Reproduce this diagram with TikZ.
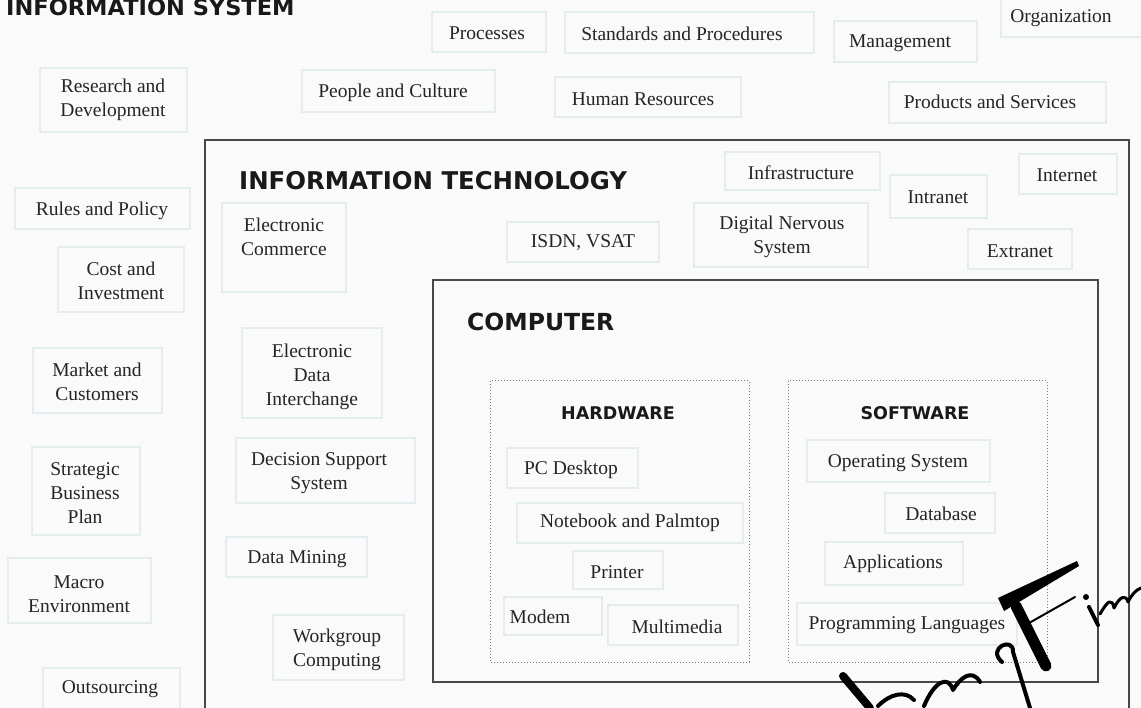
\documentclass[tikz,border=0pt]{standalone}
\usepackage{fontspec}
\setmainfont{Liberation Serif}
\newfontfamily\titlefont{DejaVu Sans}
\definecolor{bgc}{HTML}{FAFAFA}
\definecolor{boxc}{HTML}{E3ECEF}
\definecolor{framec}{HTML}{484848}
\definecolor{dotc}{HTML}{7A7A7A}
\definecolor{txtc}{HTML}{252525}
\tikzset{
  lbox/.style={draw=boxc, line width=1.5pt},
  txt/.style={font=\fontsize{19.5}{24}\selectfont, text=txtc, align=center, inner sep=0pt},
  frame/.style={draw=framec, line width=2.4pt},
  dotbox/.style={draw=dotc, line width=1pt, dotted},
  ttl/.style={font=\titlefont\bfseries, text=black!90, inner sep=0pt},
  sig/.style={draw=black, line cap=round, line join=round}
}
\newcommand\bx[8]{\draw[lbox] (#2,#3) rectangle (#4,#5); \node[txt] (#1) at (#6,#7) {#8};}
\begin{document}
\begin{tikzpicture}[x=1pt,y=-1pt]
\useasboundingbox (0,0) rectangle (1141,708);
\clip (0,0) rectangle (1141,708);
\fill[bgc] (0,0) rectangle (1141,708);

% Information system title
\node[ttl, font=\titlefont\bfseries\fontsize{22.5}{26}\selectfont, anchor=base west] (istitle) at (6,16) {INFORMATION SYSTEM};

% Outer elements
\bx{proc}{432}{12}{546}{52}{487}{33}{Processes}
\bx{stdp}{565}{12}{814}{53}{682}{34}{Standards and Procedures}
\bx{mgmt}{834}{21}{977}{62}{900}{43}{Management}
\bx{org}{1001}{-3}{1145}{37}{1061}{18}{Organization}
\bx{rnd}{40}{68}{187}{132}{113}{100}{Research and\\Development}
\bx{ppl}{302}{70}{495}{112}{393}{93}{People and Culture}
\bx{hr}{555}{77}{741}{117}{643}{99}{Human Resources}
\bx{prod}{889}{82}{1106}{123}{990}{102}{Products and Services}
\bx{rules}{15}{188}{190}{229}{102}{211}{Rules and Policy}
\bx{cost}{58}{247}{184}{312}{121}{281}{Cost and\\Investment}
\bx{mkt}{33}{348}{162}{413}{97}{382}{Market and\\Customers}
\bx{sbp}{32}{447}{140}{535}{85}{493}{Strategic\\Business\\Plan}
\bx{macro}{8}{558}{151}{623}{79}{594}{Macro\\Environment}
\bx{outs}{43}{668}{180}{715}{110}{689}{Outsourcing}

% Information technology frame
\draw[frame] (205,140) rectangle (1129,720);
\node[ttl, font=\titlefont\bfseries\fontsize{24.4}{28}\selectfont, anchor=base west] (ittitle) at (239,190) {INFORMATION TECHNOLOGY};

\bx{ecom}{222}{203}{346}{292}{284}{237}{Electronic\\Commerce}
\bx{isdn}{507}{222}{659}{262}{583}{243}{ISDN, VSAT}
\bx{infra}{725}{152}{880}{190}{801}{173}{Infrastructure}
\bx{intra}{890}{175}{987}{218}{938}{197}{Intranet}
\bx{inter}{1019}{154}{1117}{194}{1067}{175}{Internet}
\bx{dns}{694}{203}{868}{267}{782}{237}{Digital Nervous\\System}
\bx{extra}{968}{229}{1072}{269}{1020}{251}{Extranet}
\bx{edi}{242}{328}{382}{418}{312}{377}{Electronic\\Data\\Interchange}
\bx{dss}{236}{438}{415}{503}{319}{473}{Decision Support\\System}
\bx{dm}{226}{537}{367}{577}{297}{559}{Data Mining}
\bx{wg}{273}{615}{404}{680}{337}{650}{Workgroup\\Computing}

% Computer frame
\draw[frame] (433,280) rectangle (1098,682);
\node[ttl, font=\titlefont\bfseries\fontsize{23.5}{28}\selectfont, anchor=base west] (comptitle) at (467,331) {COMPUTER};

% Hardware
\draw[dotbox] (490,381) rectangle (749,662);
\node[ttl, font=\titlefont\bfseries\fontsize{17.5}{20}\selectfont, anchor=base] (hwtitle) at (618,420) {HARDWARE};
\bx{pc}{507}{448}{638}{488}{571}{470}{PC Desktop}
\bx{nb}{517}{503}{743}{543}{630}{523}{Notebook and Palmtop}
\bx{prn}{573}{551}{663}{589}{617}{572}{Printer}
\bx{modem}{504}{597}{602}{635}{540}{617}{Modem}
\bx{mm}{608}{605}{738}{645}{677}{627}{Multimedia}

% Software
\draw[dotbox] (788,381) rectangle (1047,662);
\node[ttl, font=\titlefont\bfseries\fontsize{17.5}{20}\selectfont, anchor=base] (swtitle) at (915,420) {SOFTWARE};
\bx{os}{807}{440}{990}{482}{898}{463}{Operating System}
\bx{db}{885}{493}{995}{533}{941}{514}{Database}
\bx{app}{825}{542}{963}{585}{893}{564}{Applications}
\bx{pl}{797}{603}{1017}{645}{907}{625}{Programming Languages}

% signature watermark
\draw[sig, line width=8pt] (843,676) -- (870,708);
\draw[sig, line width=4pt] (878,706) .. controls (890,694) and (905,690) .. (914,700);
\draw[sig, line width=4pt] (924,706) .. controls (934,682) and (948,674) .. (953,690) .. controls (960,678) and (972,668) .. (980,682);
\draw[sig, line width=4pt] (1002,662) .. controls (986,648) and (1014,636) .. (1013,652) -- (1030,708);
\draw[sig, line width=11pt] (1016,606) -- (1046,666);
\fill[black] (998,598) -- (1077,561) -- (1079,566) -- (1004,611) -- cycle;
\draw[sig, line width=2pt] (1022,627) -- (1075,597);
\fill[black] (1086,597) circle (3pt);
\draw[sig, line width=4pt] (1089,607) -- (1098,625);
\draw[sig, line width=3pt] (1100,614) .. controls (1108,600) and (1112,598) .. (1114,608) .. controls (1120,596) and (1126,594) .. (1128,602) .. controls (1132,594) and (1136,590) .. (1141,588);
\end{tikzpicture}
\end{document}
